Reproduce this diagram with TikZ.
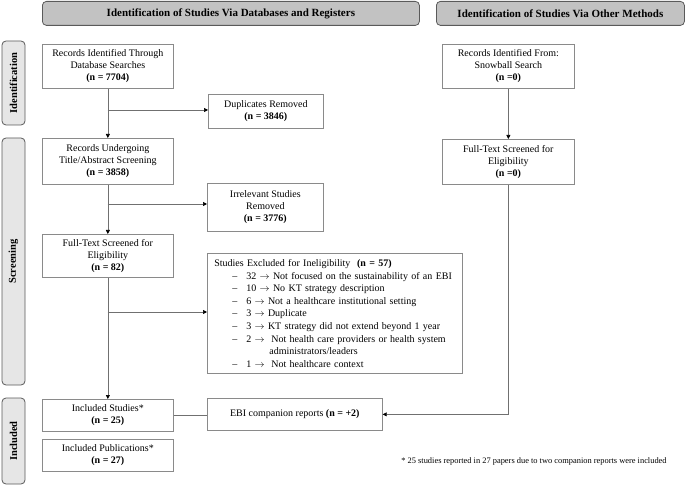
\documentclass[tikz,border=0pt]{standalone}
\usepackage{fontspec}
\setmainfont{Liberation Serif}
\usetikzlibrary{arrows.meta}
\definecolor{hdrfill}{HTML}{C2C2C2}
\definecolor{sidefill}{HTML}{E6E6E6}
\definecolor{hdrline}{HTML}{5A5A5A}
\definecolor{boxline}{HTML}{8A8A8A}
\definecolor{conline}{HTML}{707070}
\tikzset{
  hdr/.style={draw=hdrline, fill=hdrfill, rounded corners=4pt, line width=0.8pt,
    font=\fontsize{11}{13}\selectfont\bfseries, inner sep=0pt, anchor=north west},
  side/.style={draw=hdrline, fill=sidefill, rounded corners=4pt, line width=0.8pt,
    font=\fontsize{10.5}{12}\selectfont\bfseries, inner sep=0pt, rotate=90,
    minimum height=23pt},
  box/.style={draw=boxline, line width=0.7pt, align=center, inner sep=0pt,
    font=\fontsize{10}{12}\selectfont, anchor=north west},
  ln/.style={draw=conline, line width=0.7pt},
  arr/.style={-{Triangle[width=4pt,length=4pt,color=black,fill=black]}},
}
\begin{document}
\begin{tikzpicture}[x=1pt,y=-1pt]
\useasboundingbox (0,0) rectangle (685,486);

% headers
\node[hdr, minimum width=377pt, minimum height=24pt] (h1) at (42,1)
  {Identification of Studies Via Databases and Registers};
\node[hdr, minimum width=248pt, minimum height=24pt] (h2) at (436,1)
  {Identification of Studies Via Other Methods};

% side labels
\node[side, minimum width=84pt] (sI) at (13.5,83) {Identification};
\node[side, minimum width=247pt] (sS) at (13.5,261.5) {Screening};
\node[side, minimum width=86pt] (sN) at (13.5,441) {Included};

% left column
\node[box, minimum width=131pt, minimum height=44pt] (A) at (42,44)
  {Records Identified Through\\Database Searches\\\textbf{(n = 7704)}};
\node[box, minimum width=115pt, minimum height=34pt] (Dup) at (208,94)
  {Duplicates Removed\\\textbf{(n = 3846)}};
\node[box, minimum width=131pt, minimum height=46pt] (B) at (42,138)
  {Records Undergoing\\Title/Abstract Screening\\\textbf{(n = 3858)}};
\node[box, minimum width=116pt, minimum height=48pt] (Irr) at (207,183)
  {Irrelevant Studies\\Removed\\\textbf{(n = 3776)}};
\node[box, minimum width=131pt, minimum height=43pt] (C) at (42,234)
  {Full-Text Screened for\\Eligibility\\\textbf{(n = 82)}};
\node[box, minimum width=255pt, minimum height=120pt, align=left,
      text width=241pt, inner xsep=7pt,
      font=\fontsize{10}{12.6}\selectfont] (Exc) at (207,253)
  {Studies Excluded for Ineligibility\ \ \textbf{(n = 57)}\\
   \hspace*{18pt}\makebox[14pt][l]{--}32 $\rightarrow$ Not focused on the sustainability of an EBI\\
   \hspace*{18pt}\makebox[14pt][l]{--}10 $\rightarrow$ No KT strategy description\\
   \hspace*{18pt}\makebox[14pt][l]{--}6 $\rightarrow$ Not a healthcare institutional setting\\
   \hspace*{18pt}\makebox[14pt][l]{--}3 $\rightarrow$ Duplicate\\
   \hspace*{18pt}\makebox[14pt][l]{--}3 $\rightarrow$ KT strategy did not extend beyond 1 year\\
   \hspace*{18pt}\makebox[14pt][l]{--}2 $\rightarrow$\ \ Not health care providers or health system\\
   \hspace*{55pt}administrators/leaders\\
   \hspace*{18pt}\makebox[14pt][l]{--}1 $\rightarrow$\ \ Not healthcare context};
\node[box, minimum width=131pt, minimum height=32pt] (D) at (42,399)
  {Included Studies*\\\textbf{(n = 25)}};
\node[box, minimum width=131pt, minimum height=32pt] (E) at (42,439)
  {Included Publications*\\\textbf{(n = 27)}};
\node[box, minimum width=175pt, minimum height=32pt] (EBI) at (207,398)
  {EBI companion reports \textbf{(n = +2)}};

% right column
\node[box, minimum width=132pt, minimum height=44pt] (S) at (442,44)
  {Records Identified From:\\Snowball Search\\\textbf{(n =0)}};
\node[box, minimum width=132pt, minimum height=45pt] (F) at (442,139)
  {Full-Text Screened for\\Eligibility\\\textbf{(n =0)}};

% footnote
\node[font=\fontsize{8.4}{10}\selectfont, inner sep=0pt] (fn) at (534,461)
  {* 25 studies reported in 27 papers due to two companion reports were included};

% connectors
\coordinate (j1) at (107.5,110);
\coordinate (j2) at (107.5,204);
\coordinate (j3) at (107.5,312);
\draw[ln,arr] (A) -- (B);
\draw[ln,arr] (j1) -- (j1 -| Dup.west);
\draw[ln,arr] (B) -- (C);
\draw[ln,arr] (j2) -- (j2 -| Irr.west);
\draw[ln,arr] (C) -- (D);
\draw[ln,arr] (j3) -- (j3 -| Exc.west);
\draw[ln] (D.east) -- (D.east -| EBI.west);
\draw[ln,arr] (S) -- (F);
\draw[ln,arr] (F.south) |- (EBI.east);
\end{tikzpicture}
\end{document}
